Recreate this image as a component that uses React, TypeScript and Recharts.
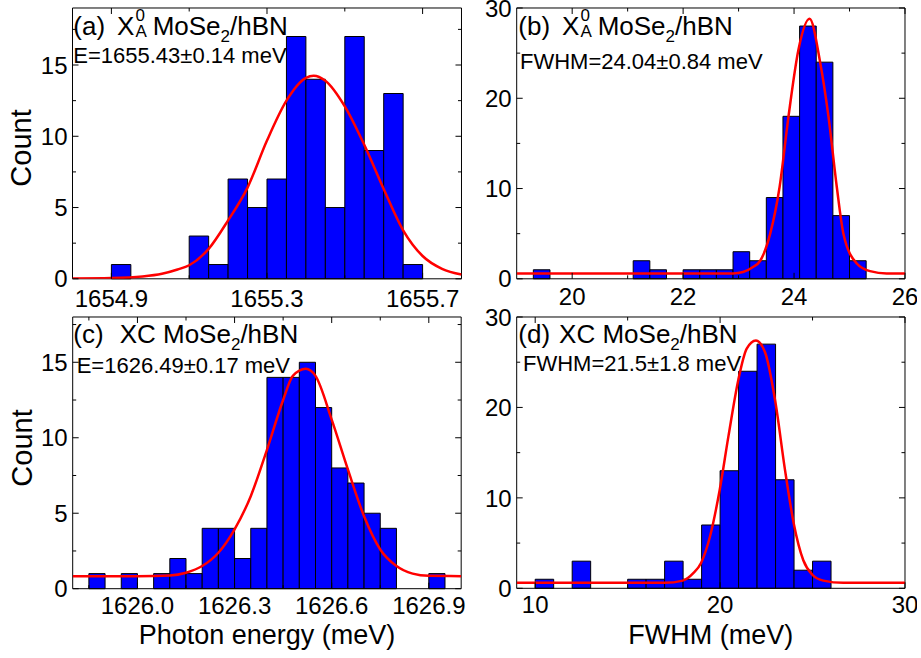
import React from "react";
import { ComposedChart, Line, XAxis, YAxis, ReferenceArea } from "recharts";

const FONT = '"Liberation Sans", Arial, Helvetica, sans-serif';

// (a) X0A peak energy, bins of 0.05 meV
const aBinStart = [1654.9, 1655.1, 1655.15, 1655.2, 1655.25, 1655.3, 1655.35, 1655.4, 1655.45, 1655.5, 1655.55, 1655.6, 1655.65];
const aCounts = [1, 3, 1, 7, 5, 7, 17, 14, 5, 17, 9, 13, 1];
const aFitX = [1654.8, 1654.9, 1654.98, 1655.03, 1655.07, 1655.1, 1655.15, 1655.2, 1655.25, 1655.3, 1655.35, 1655.4, 1655.42, 1655.45, 1655.5, 1655.55, 1655.6, 1655.65, 1655.7, 1655.75, 1655.8];
const aFitY = [0.02, 0.05, 0.16, 0.35, 0.65, 0.95, 2.1, 4.1, 6.4, 9.7, 12.5, 14.1, 14.25, 13.9, 12.1, 9.4, 6.3, 3.4, 1.6, 0.7, 0.3];

// (b) X0A linewidth, bins of 0.3 meV
const bBinStart = [19.3, 21.1, 21.4, 22.0, 22.3, 22.6, 22.9, 23.2, 23.5, 23.8, 24.1, 24.4, 24.7, 25.0];
const bCounts = [1, 2, 1, 1, 1, 1, 3, 2, 9, 18, 28, 24, 7, 2];
const bFitX = [19, 21, 22.9, 23.08, 23.26, 23.39, 23.57, 23.74, 23.9, 24.08, 24.28, 24.47, 24.62, 24.77, 24.89, 25.13, 25.37, 25.67, 26];
const bFitY = [0.6, 0.6, 0.6, 0.75, 1.3, 2.0, 5.0, 10.2, 18.0, 25.4, 28.8, 24.0, 18.0, 10.2, 5.0, 1.7, 0.85, 0.6, 0.6];

// (c) XC peak energy, bins of 0.05 meV
const cBinStart = [1625.85, 1625.95, 1626.05, 1626.1, 1626.15, 1626.2, 1626.25, 1626.3, 1626.35, 1626.4, 1626.45, 1626.5, 1626.55, 1626.6, 1626.65, 1626.7, 1626.75, 1626.9];
const cCounts = [1, 1, 1, 2, 1, 4, 4, 2, 4, 14, 14, 15, 12, 8, 7, 5, 4, 1];
const cFitX = [1625.8, 1626.0, 1626.1, 1626.15, 1626.2, 1626.25, 1626.3, 1626.35, 1626.4, 1626.45, 1626.48, 1626.52, 1626.55, 1626.6, 1626.65, 1626.7, 1626.75, 1626.8, 1626.85, 1626.9, 1627.0];
const cFitY = [0.83, 0.83, 0.88, 1.06, 1.5, 2.38, 3.93, 6.13, 9.2, 12.5, 14.1, 14.57, 14.1, 11.2, 7.9, 4.8, 2.6, 1.5, 1.0, 0.85, 0.83];

// (d) XC linewidth, bins of 1 meV
const dBinStart = [10, 12, 15, 16, 17, 18, 19, 20, 21, 22, 23, 24, 25];
const dCounts = [1, 3, 1, 1, 3, 1, 7, 13, 24, 27, 12, 2, 3];
const dFitX = [9, 14, 17, 17.98, 18.55, 18.97, 19.45, 19.98, 20.45, 20.99, 21.44, 21.94, 22.43, 22.99, 23.51, 23.98, 24.5, 24.99, 25.58, 26.66, 30];
const dFitY = [0.6, 0.6, 0.6, 0.85, 1.67, 2.8, 5.7, 10.9, 16.8, 23.1, 26.5, 27.4, 26.1, 20.6, 13.1, 7.2, 3.1, 1.5, 0.85, 0.6, 0.6];

// extra room above each plot so the top tick label is not clipped by the svg
const HEADROOM = 12;

type PanelProps = {
  left: number;
  top: number;
  yAxisW: number;
  plotW: number;
  plotH: number;
  tickDy: number;
  binStart: number[];
  counts: number[];
  binWidth: number;
  fitX: number[];
  fitY: number[];
  xDomain: [number, number];
  yMax: number;
  xMajor: number[];
  xMinor: number[];
  yMajor: number[];
  yMinor: number[];
  xFmt: (v: number) => string;
};

function Panel(p: PanelProps) {
  const data = p.fitX.map((x, i) => ({ x, y: p.fitY[i] }));
  const xTicks = [...p.xMajor, ...p.xMinor].sort((a, b) => a - b);
  const yTicks = [...p.yMajor, ...p.yMinor].sort((a, b) => a - b);

  const renderXTick = (props: any) => {
    const { x, y, payload } = props;
    const major = p.xMajor.includes(payload.value);
    const len = major ? 6 : 3.5;
    return (
      <g>
        <line x1={x} x2={x} y1={y} y2={y - len} stroke="#000" />
        <line x1={x} x2={x} y1={y - p.plotH} y2={y - p.plotH + len} stroke="#000" />
        {major && (
          <text x={x} y={y + p.tickDy} textAnchor="middle" fontFamily={FONT} fontSize={24} fill="#000">
            {p.xFmt(payload.value)}
          </text>
        )}
      </g>
    );
  };

  const renderYTick = (props: any) => {
    const { x, y, payload } = props;
    const major = p.yMajor.includes(payload.value);
    const len = major ? 6 : 3.5;
    return (
      <g>
        <line x1={x} x2={x + len} y1={y} y2={y} stroke="#000" />
        <line x1={x + p.plotW} x2={x + p.plotW - len} y1={y} y2={y} stroke="#000" />
        {major && (
          <text x={x - 5} y={y} dy="0.36em" textAnchor="end" fontFamily={FONT} fontSize={24} fill="#000">
            {payload.value}
          </text>
        )}
      </g>
    );
  };

  return (
    <div style={{ position: "absolute", left: p.left, top: p.top - HEADROOM }}>
      <ComposedChart
        width={p.yAxisW + p.plotW + 12}
        height={HEADROOM + p.plotH + 40}
        data={data}
        margin={{ top: HEADROOM, right: 12, bottom: 0, left: 0 }}
      >
        <XAxis
          dataKey="x"
          type="number"
          domain={p.xDomain}
          allowDataOverflow
          ticks={xTicks}
          interval={0}
          tick={renderXTick}
          tickLine={false}
          axisLine={false}
          tickSize={0}
          tickMargin={0}
          height={40}
        />
        <YAxis
          type="number"
          domain={[0, p.yMax]}
          allowDataOverflow
          ticks={yTicks}
          interval={0}
          tick={renderYTick}
          tickLine={false}
          axisLine={false}
          tickSize={0}
          tickMargin={0}
          width={p.yAxisW}
        />
        {p.binStart.map((lo, i) => (
          <ReferenceArea
            key={i}
            x1={lo}
            x2={lo + p.binWidth}
            y1={0}
            y2={p.counts[i]}
            fill="#0000ff"
            fillOpacity={1}
            stroke="#000"
            strokeWidth={1}
          />
        ))}
        <Line dataKey="y" type="monotone" stroke="#ff0000" strokeWidth={2.5} dot={false} isAnimationActive={false} />
        <ReferenceArea x1={p.xDomain[0]} x2={p.xDomain[1]} y1={0} y2={p.yMax} fill="none" stroke="#000" strokeWidth={1} />
      </ComposedChart>
    </div>
  );
}

// text placed by its baseline
function Txt({ x, base, size, center, children }: { x: number; base: number; size: number; center?: boolean; children: React.ReactNode }) {
  return (
    <div
      style={{
        position: "absolute",
        left: x,
        top: base - 0.8465 * size,
        fontSize: size,
        lineHeight: `${size}px`,
        fontFamily: FONT,
        color: "#000",
        whiteSpace: "nowrap",
        transform: center ? "translateX(-50%)" : undefined,
      }}
    >
      {children}
    </div>
  );
}

function Title({ x, base, tag, tagGap, exciton }: { x: number; base: number; tag: string; tagGap: number; exciton: "X0A" | "XC" }) {
  return (
    <Txt x={x} base={base} size={26}>
      {tag}
      <span style={{ marginLeft: tagGap }}>X</span>
      {exciton === "X0A" ? (
        <span style={{ position: "relative", display: "inline-block", width: 11, height: 1 }}>
          <span style={{ position: "absolute", left: 1, bottom: 10.5, fontSize: 17, lineHeight: "17px" }}>0</span>
          <span style={{ position: "absolute", left: 1, bottom: -5, fontSize: 17, lineHeight: "17px" }}>A</span>
        </span>
      ) : (
        "C"
      )}
      {" MoSe"}
      <span style={{ fontSize: 17, verticalAlign: -7 }}>2</span>
      /hBN
    </Txt>
  );
}

function Count({ cx, cy }: { cx: number; cy: number }) {
  return (
    <div
      style={{
        position: "absolute",
        left: cx,
        top: cy,
        fontSize: 29,
        lineHeight: "29px",
        fontFamily: FONT,
        whiteSpace: "nowrap",
        transform: "translate(-50%, -50%) rotate(-90deg)",
      }}
    >
      Count
    </div>
  );
}

export default function App() {
  const fmt1 = (v: number) => v.toFixed(1);
  const fmt0 = (v: number) => String(v);
  return (
    <div style={{ position: "absolute", left: 0, top: 0, width: 921, height: 658, background: "#fff", overflow: "hidden" }}>
      <Panel
        left={0}
        top={7.5}
        yAxisW={72.5}
        plotW={389}
        plotH={270.8}
        tickDy={28.4}
        binStart={aBinStart}
        counts={aCounts}
        binWidth={0.05}
        fitX={aFitX}
        fitY={aFitY}
        xDomain={[1654.8, 1655.8]}
        yMax={19}
        xMajor={[1654.9, 1655.3, 1655.7]}
        xMinor={[1655.1, 1655.5]}
        yMajor={[0, 5, 10, 15]}
        yMinor={[2.5, 7.5, 12.5, 17.5]}
        xFmt={fmt1}
      />
      <Panel
        left={470}
        top={7.5}
        yAxisW={46.7}
        plotW={388.3}
        plotH={270.8}
        tickDy={26.7}
        binStart={bBinStart}
        counts={bCounts}
        binWidth={0.3}
        fitX={bFitX}
        fitY={bFitY}
        xDomain={[19, 26]}
        yMax={30}
        xMajor={[20, 22, 24, 26]}
        xMinor={[21, 23, 25]}
        yMajor={[0, 10, 20, 30]}
        yMinor={[5, 15, 25]}
        xFmt={fmt0}
      />
      <Panel
        left={0}
        top={317.3}
        yAxisW={72.7}
        plotW={388.5}
        plotH={271.7}
        tickDy={25.7}
        binStart={cBinStart}
        counts={cCounts}
        binWidth={0.05}
        fitX={cFitX}
        fitY={cFitY}
        xDomain={[1625.8, 1627.0]}
        yMax={18}
        xMajor={[1626.0, 1626.3, 1626.6, 1626.9]}
        xMinor={[1625.85, 1626.15, 1626.45, 1626.75]}
        yMajor={[0, 5, 10, 15]}
        yMinor={[2.5, 7.5, 12.5, 17.5]}
        xFmt={fmt1}
      />
      <Panel
        left={470}
        top={317}
        yAxisW={46.7}
        plotW={388.3}
        plotH={271.3}
        tickDy={25}
        binStart={dBinStart}
        counts={dCounts}
        binWidth={1}
        fitX={dFitX}
        fitY={dFitY}
        xDomain={[9, 30]}
        yMax={30}
        xMajor={[10, 20, 30]}
        xMinor={[15, 25]}
        yMajor={[0, 10, 20, 30]}
        yMinor={[5, 15, 25]}
        xFmt={fmt0}
      />

      <Title x={73.3} base={35} tag="(a)" tagGap={12} exciton="X0A" />
      <Txt x={73.3} base={63.3} size={22}>E=1655.43±0.14 meV</Txt>
      <Title x={518.3} base={35} tag="(b)" tagGap={12} exciton="X0A" />
      <Txt x={520} base={70} size={22}>FWHM=24.04±0.84 meV</Txt>
      <Title x={73.3} base={343.3} tag="(c)" tagGap={16} exciton="XC" />
      <Txt x={76.7} base={374} size={22}>E=1626.49±0.17 meV</Txt>
      <Title x={518.3} base={343.3} tag="(d)" tagGap={9} exciton="XC" />
      <Txt x={523} base={372} size={22}>FWHM=21.5±1.8 meV</Txt>

      <Count cx={21} cy={147.5} />
      <Count cx={22} cy={447.5} />
      <Txt x={267} base={645} size={27} center>Photon energy (meV)</Txt>
      <Txt x={710.8} base={645} size={27} center>FWHM (meV)</Txt>
    </div>
  );
}
